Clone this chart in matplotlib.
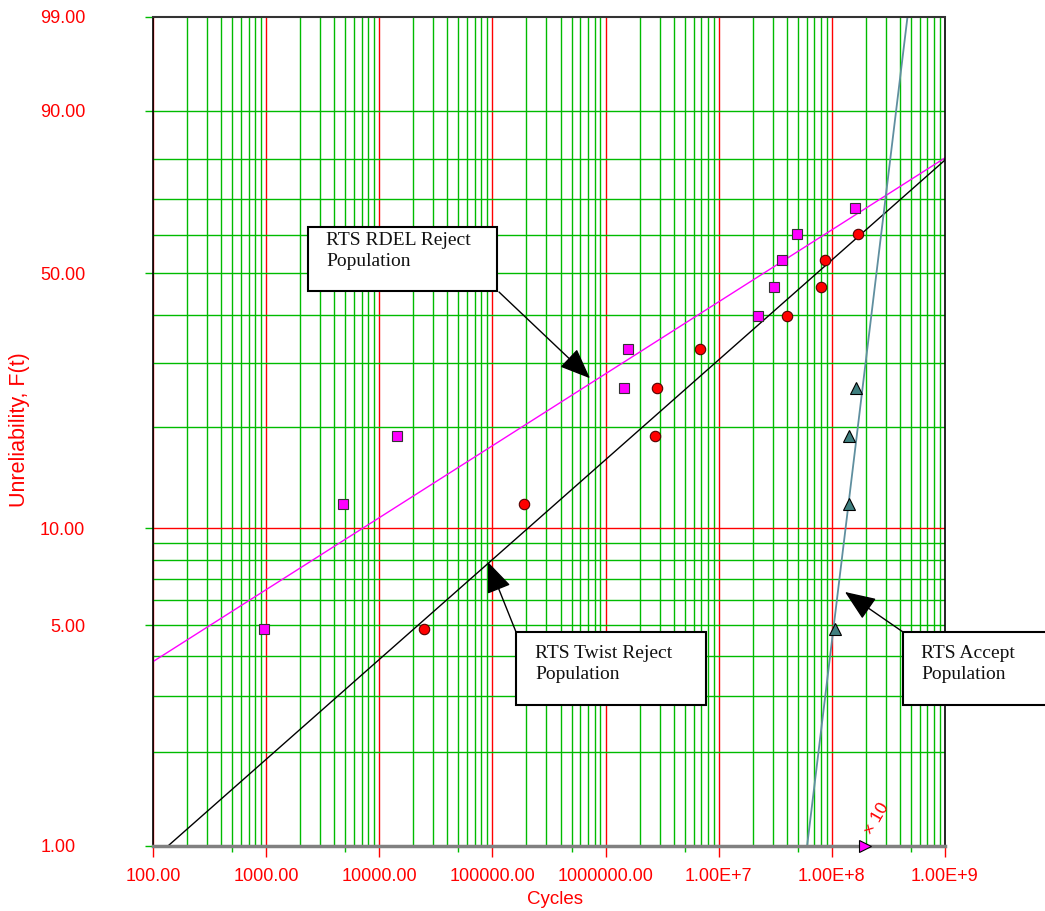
import numpy as np
import matplotlib
matplotlib.use("Agg")
import matplotlib.pyplot as plt
from matplotlib.patches import Rectangle
from matplotlib.transforms import ScaledTranslation

plt.rcParams["font.family"] = ["Liberation Sans", "DejaVu Sans"]

# ---------------- data ----------------
# unreliability ranks (percent) shared by the three populations
rank_pct = [4.86, 11.81, 18.75, 25.69, 32.64, 39.58, 46.53, 53.47, 60.42, 67.36]

# RTS RDEL Reject population (magenta squares)
rdel_cycles = [957, 4780, 14350, 1.456e6, 1.58e6, 2.22e7, 3.08e7, 3.63e7, 4.92e7, 1.60e8]
rdel_F = rank_pct[:10]

# RTS Twist Reject population (red circles)
twist_cycles = [24850, 1.90e5, 2.74e6, 2.85e6, 6.84e6, 4.02e7, 8.02e7, 8.70e7, 1.70e8]
twist_F = rank_pct[:9]

# RTS Accept population (teal triangles)
accept_cycles = [1.067e8, 1.42e8, 1.42e8, 1.636e8]
accept_F = rank_pct[:4]

# suspension marker
susp_cycles = [1.96e8]
susp_F = [1.0]
susp_label = "× 10"

# Weibull fit lines (beta, eta)
rdel_beta, rdel_eta = 0.231, 1.22e8
twist_beta, twist_eta = 0.3206, 2.31e8
accept_beta, accept_eta = 3.0, 2.80e8

x_ticks = [1e2, 1e3, 1e4, 1e5, 1e6, 1e7, 1e8, 1e9]
x_ticklabels = ["100.00", "1000.00", "10000.00", "100000.00", "1000000.00",
                "1.00E+7", "1.00E+8", "1.00E+9"]
y_ticks = [1, 5, 10, 50, 90, 99]
y_ticklabels = ["1.00", "5.00", "10.00", "50.00", "90.00", "99.00"]
y_grid_green = [2, 3, 4, 5, 6, 7, 8, 9, 20, 30, 40, 50, 60, 70, 80, 90]

# ---------------- styling ----------------
RED = "#ff0000"
GREEN = "#00bb00"
W, H = 1045, 911


def fwd(p):
    p = np.asarray(p, dtype=float)
    with np.errstate(all="ignore"):
        return np.log(-np.log(1.0 - p / 100.0))


def inv(w):
    w = np.asarray(w, dtype=float)
    with np.errstate(all="ignore"):
        return 100.0 * (1.0 - np.exp(-np.exp(w)))


def weib(t, beta, eta):
    F = 100.0 * (1.0 - np.exp(-(t / eta) ** beta))
    F = np.where(F > 99.95, np.nan, F)
    return F


fig = plt.figure(figsize=(W / 100, H / 100), dpi=100)
ax = fig.add_axes([153 / W, (H - 846) / H, (945 - 153) / W, (846 - 17) / H])
ax.set_xscale("log")
ax.set_yscale("function", functions=(fwd, inv))
ax.set_xlim(1e2, 1e9)
ax.set_ylim(1, 99)

# grid
for d in range(2, 9):
    ax.axvline(10.0 ** d, color=RED, lw=1, zorder=1)
for d in range(2, 9):
    for m in range(2, 10):
        ax.axvline(m * 10.0 ** d, color=GREEN, lw=1, zorder=1)
for p in y_grid_green:
    ax.axhline(p, color=GREEN, lw=1, zorder=1)
ax.axhline(10, color=RED, lw=1, zorder=1)

# fit lines
t = np.logspace(2, 9, 3000)
ax.plot(t, weib(t, rdel_beta, rdel_eta), color="#ff00ff", lw=1, zorder=3)
ax.plot(t, weib(t, twist_beta, twist_eta), color="black", lw=1, zorder=3)
ax.plot(t, weib(t, accept_beta, accept_eta), color="#5f8f9f", lw=1.3, zorder=3)

# points
ax.plot(rdel_cycles, rdel_F, ls="none", marker="s", ms=7.2, mfc="#ff00ff",
        mec="#333333", mew=0.8, zorder=5)
ax.plot(twist_cycles, twist_F, ls="none", marker="o", ms=7.5, mfc="#ff0000",
        mec="#550000", mew=0.8, zorder=5)
ax.plot(accept_cycles, accept_F, ls="none", marker="^", ms=9, mfc="#3f7f7f",
        mec="black", mew=0.8, zorder=5)
ax.plot(susp_cycles, susp_F, ls="none", marker=">", ms=9, mfc="#ff00ff",
        mec="black", mew=0.8, zorder=6, clip_on=False)
ax.text(2.5e8, 1.22, susp_label, color=RED, fontsize=12.5, rotation=60,
        ha="center", va="center", zorder=6, clip_on=False)

# spines
for s in ["left", "right"]:
    ax.spines[s].set_color("black")
    ax.spines[s].set_linewidth(1.2)
ax.spines["top"].set_color("#333333")
ax.spines["top"].set_linewidth(1.5)
ax.spines["bottom"].set_color("#808080")
ax.spines["bottom"].set_linewidth(2.5)
for s in ax.spines.values():
    s.set_zorder(4)

# ticks
ax.set_xticks(x_ticks)
ax.set_xticklabels(x_ticklabels)
ax.xaxis.set_minor_locator(matplotlib.ticker.FixedLocator(
    [5 * 10.0 ** d for d in range(2, 9)]))
ax.xaxis.set_minor_formatter(matplotlib.ticker.NullFormatter())
ax.tick_params(axis="x", which="major", length=8, width=1, color=RED,
               labelcolor=RED, labelsize=13, pad=8, top=False)
ax.tick_params(axis="x", which="minor", length=4.3, width=1, color=GREEN, top=False)
for tk, lab in zip(ax.xaxis.get_major_ticks(), x_ticklabels):
    if lab in ("100.00", "1.00E+9"):
        tk.tick1line.set_color("black")

ax.set_yticks(y_ticks)
ax.set_yticklabels(y_ticklabels)
ax.yaxis.set_minor_locator(matplotlib.ticker.NullLocator())
ax.tick_params(axis="y", which="major", length=5.8, width=1, color=GREEN,
               labelcolor=RED, labelsize=13, pad=43, right=False)
tick_cols = {1: "#808080", 5: GREEN, 10: RED, 50: GREEN, 90: GREEN, 99: "#333333"}
for tk, v in zip(ax.yaxis.get_major_ticks(), y_ticks):
    tk.tick1line.set_color(tick_cols[v])
for lab in ax.get_yticklabels():
    if lab.get_text() == "1.00":
        lab.set_transform(lab.get_transform() +
                          ScaledTranslation(-9 / 100, 0, fig.dpi_scale_trans))

fig.text(555 / W, 1 - 899 / H, "Cycles", color=RED, fontsize=13.5,
         ha="center", va="center")
fig.text(20 / W, 1 - 430 / H, "Unreliability, F(t)", color=RED, fontsize=15.5,
         ha="center", va="center", rotation=90)

# callouts
serif = ["Liberation Serif", "DejaVu Serif"]


def callout(x0, y0, x1, y1, text, tx, ty, anchor, target):
    r = Rectangle((x0 / W, 1 - y1 / H), (x1 - x0) / W, (y1 - y0) / H,
                  transform=fig.transFigure, facecolor="white",
                  edgecolor="black", lw=1.5, zorder=10, clip_on=False)
    fig.patches.append(r)
    fig.text(tx / W, 1 - ty / H, text, family=serif, fontsize=14,
             ha="left", va="top", linespacing=1.3, zorder=11, color="#111111")
    ax.annotate("", xy=target, xycoords="data",
                xytext=(anchor[0], H - anchor[1]), textcoords="figure pixels",
                arrowprops=dict(arrowstyle="-|>,head_length=1.6,head_width=0.65",
                                color="black", lw=1, shrinkA=0, shrinkB=0,
                                mutation_scale=12),
                zorder=9, annotation_clip=False)


callout(308, 227, 497, 291, "RTS RDEL Reject\nPopulation", 326, 232,
        (499, 292), (7.28e5, 27.3))
callout(516, 632, 706, 705, "RTS Twist Reject\nPopulation", 535, 645,
        (516, 632), (9.14e4, 7.87))
callout(903, 632, 1052, 705, "RTS Accept\nPopulation", 921, 645,
        (903, 632), (1.306e8, 6.36))

fig.savefig("out.png", dpi=100)
